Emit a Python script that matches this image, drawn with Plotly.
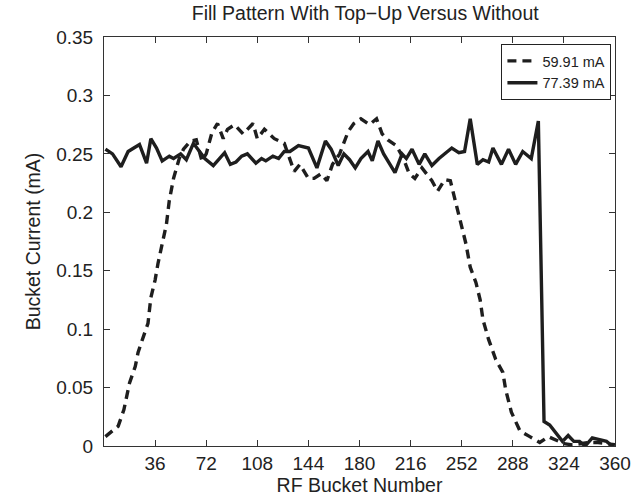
import plotly.graph_objects as go

# Solid series: 77.39 mA (with top-up)
bucket_a = [1, 6, 12, 17, 21, 25, 30, 33, 37, 41, 46, 49, 54, 58, 63, 67, 71, 77, 81, 85,
            89, 93, 97, 101, 107, 111, 114, 119, 123, 127, 131, 137, 144, 150, 156, 160, 165,
            169, 173, 177, 181, 186, 189, 193, 197, 200, 205, 210, 213, 217, 222, 226, 231,
            236, 240, 245, 250, 254, 258, 263, 267, 271, 274, 280, 285, 290, 295, 301, 306,
            310, 314, 318, 323, 327, 331, 335, 339, 344, 350, 354, 358]
current_a = [0.254, 0.250, 0.239, 0.252, 0.255, 0.258, 0.242, 0.263, 0.255, 0.244, 0.248,
             0.246, 0.250, 0.245, 0.259, 0.252, 0.246, 0.240, 0.246, 0.251, 0.241, 0.243,
             0.248, 0.250, 0.242, 0.246, 0.244, 0.248, 0.246, 0.252, 0.252, 0.257, 0.255,
             0.238, 0.261, 0.254, 0.240, 0.250, 0.245, 0.238, 0.246, 0.252, 0.244, 0.261,
             0.250, 0.244, 0.234, 0.250, 0.246, 0.254, 0.241, 0.250, 0.240, 0.246, 0.250,
             0.255, 0.251, 0.252, 0.280, 0.241, 0.245, 0.243, 0.255, 0.241, 0.254, 0.241,
             0.252, 0.246, 0.278, 0.021, 0.018, 0.012, 0.004, 0.009, 0.004, 0.004, 0.000,
             0.007, 0.005, 0.004, 0.000]

# Dashed series: 59.91 mA (without top-up)
bucket_b = [1, 10, 14, 18, 22, 24, 27, 31, 33, 36, 38, 40, 44, 46, 49, 53, 56, 61, 65, 69,
            72, 76, 80, 84, 87, 92, 98, 105, 108, 113, 120, 127, 131, 134, 138, 144, 148,
            153, 157, 161, 166, 172, 176, 181, 187, 192, 196, 200, 206, 211, 215, 219, 224,
            231, 235, 240, 244, 248, 251, 255, 258, 262, 265, 267, 271, 276, 281, 283, 287,
            293, 300, 307, 313, 318, 324, 330, 336, 342, 348, 354, 360]
current_b = [0.008, 0.017, 0.031, 0.054, 0.068, 0.080, 0.091, 0.105, 0.127, 0.142, 0.156,
             0.167, 0.190, 0.210, 0.229, 0.246, 0.254, 0.261, 0.262, 0.244, 0.250, 0.268,
             0.276, 0.263, 0.271, 0.275, 0.267, 0.276, 0.263, 0.271, 0.263, 0.259, 0.246,
             0.235, 0.241, 0.229, 0.229, 0.233, 0.227, 0.241, 0.250, 0.269, 0.276, 0.280,
             0.275, 0.280, 0.267, 0.262, 0.257, 0.246, 0.233, 0.229, 0.238, 0.227, 0.218,
             0.228, 0.227, 0.207, 0.190, 0.173, 0.153, 0.140, 0.125, 0.108, 0.091, 0.074,
             0.063, 0.048, 0.029, 0.013, 0.008, 0.003, 0.008, 0.005, 0.002, 0.001, 0.002,
             0.003, 0.003, 0.002, 0.001]

x_ticks = [36, 72, 108, 144, 180, 216, 252, 288, 324, 360]
y_ticks = [0, 0.05, 0.1, 0.15, 0.2, 0.25, 0.3, 0.35]
y_labels = ["0", "0.05", "0.1", "0.15", "0.2", "0.25", "0.3", "0.35"]

FONT = "Liberation Sans, Arial, sans-serif"
INK = "#1e1e1e"

fig = go.Figure()
fig.add_trace(go.Scatter(x=bucket_b, y=current_b, mode="lines", name="59.91 mA",
                         line=dict(color=INK, width=3.4, dash="9px,6px")))
fig.add_trace(go.Scatter(x=bucket_a, y=current_a, mode="lines", name="77.39 mA",
                         line=dict(color=INK, width=3.4)))

axis_common = dict(showgrid=False, zeroline=False, showline=True, linecolor="#333",
                   linewidth=1, mirror="ticks", ticks="inside", ticklen=6,
                   tickcolor="#333", tickfont=dict(size=19, color="#222", family=FONT))

fig.update_layout(
    width=643, height=503,
    margin=dict(l=104, r=19, t=37, b=56),
    paper_bgcolor="white", plot_bgcolor="white",
    font=dict(family=FONT, color="#222"),
    title=dict(text="Fill Pattern With Top\u2212Up Versus Without", x=0.568, xanchor="center",
               y=0.988, yanchor="top", font=dict(size=19.5, color="#222", family=FONT)),
    xaxis=dict(range=[0, 360], tickvals=x_ticks, ticktext=[str(t) for t in x_ticks],
               title=dict(text="RF Bucket Number", font=dict(size=19.5, family=FONT), standoff=4),
               **axis_common),
    yaxis=dict(range=[0, 0.35], tickvals=y_ticks, ticktext=y_labels, ticklabelstandoff=6,
               title=dict(text="Bucket Current (mA)", font=dict(size=19.5, family=FONT), standoff=10),
               **axis_common),
    legend=dict(x=0.993, y=0.983, xanchor="right", yanchor="top", bgcolor="white",
                bordercolor="#222", borderwidth=1, font=dict(size=14.5, family=FONT, color="#222"),
                tracegroupgap=0, itemwidth=30),
    showlegend=True,
)

fig.write_html("out.html")
